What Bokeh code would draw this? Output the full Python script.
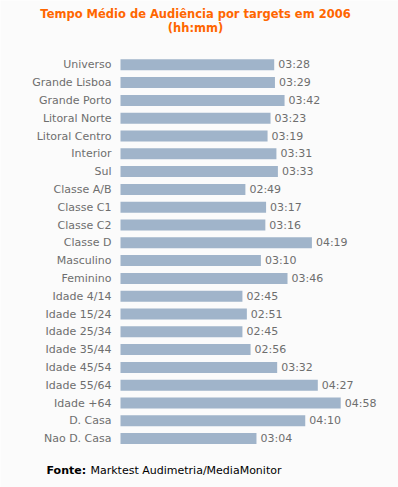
from bokeh.plotting import figure
from bokeh.models import ColumnDataSource, Range1d, Label
from bokeh.core.properties import value
from bokeh.embed import file_html
from bokeh.resources import INLINE

targets = ["Universo", "Grande Lisboa", "Grande Porto", "Litoral Norte", "Litoral Centro",
           "Interior", "Sul", "Classe A/B", "Classe C1", "Classe C2", "Classe D",
           "Masculino", "Feminino", "Idade 4/14", "Idade 15/24", "Idade 25/34",
           "Idade 35/44", "Idade 45/54", "Idade 55/64", "Idade +64", "D. Casa", "Nao D. Casa"]
tempos = ["03:28", "03:29", "03:42", "03:23", "03:19", "03:31", "03:33", "02:49", "03:17",
          "03:16", "04:19", "03:10", "03:46", "02:45", "02:51", "02:45", "02:56", "03:32",
          "04:27", "04:58", "04:10", "03:04"]
minutos = [int(t.split(":")[0]) * 60 + int(t.split(":")[1]) for t in tempos]
titulo = ["Tempo Médio de Audiência por targets em 2006", "(hh:mm)"]
fonte = ("Fonte:", "Marktest Audimetria/MediaMonitor")

FONT = "DejaVu Sans"
GRAY = "#6e6e6e"
BG = "#fbfbfb"
W, H = 398, 487
X0, PXM = 120, 0.739      # page x of zero minutes, pixels per minute
Y0, ROW = 64.3, 17.8      # page y of first row, row pitch

pos = list(range(len(targets)))
src = ColumnDataSource(dict(y=pos, x=minutos, lab=tempos, cat=targets, zero=[0] * len(pos)))

p = figure(width=W, height=H, output_backend="svg", toolbar_location=None,
           x_range=Range1d(-X0 / PXM, (W - X0) / PXM),
           y_range=Range1d((H - Y0) / ROW, -Y0 / ROW),
           min_border=0, min_border_left=0, min_border_right=0,
           min_border_top=0, min_border_bottom=0)
p.background_fill_color = BG
p.border_fill_color = BG
p.outline_line_color = None
p.grid.visible = False
p.axis.visible = False

p.hbar(y="y", right="x", left=0, height=11 / ROW, source=src, color="#a0b4ca", line_color=None)
p.text(x="x", y="y", text="lab", source=src, x_offset=4, text_baseline="middle",
       text_font=value(FONT), text_font_size="11px", text_color=GRAY)
p.text(x="zero", y="y", text="cat", source=src, x_offset=-9, text_align="right",
       text_baseline="middle", text_font=value(FONT), text_font_size="11px", text_color=GRAY)

def px(xp):
    return (xp - X0) / PXM

def py(yp):
    return (yp - Y0) / ROW

for i, t in enumerate(titulo):
    p.add_layout(Label(x=px(195), y=py(13.5 + 14 * i), text=t, text_align="center",
                       text_baseline="middle", text_font=FONT, text_font_size="11.5px",
                       text_font_style="bold", text_color="#ff6600"))
p.add_layout(Label(x=px(46), y=py(470), text=fonte[0], text_align="left", text_baseline="middle",
                   text_font=FONT, text_font_size="11px", text_font_style="bold", text_color="#000000"))
p.add_layout(Label(x=px(90), y=py(470), text=fonte[1], text_align="left", text_baseline="middle",
                   text_font=FONT, text_font_size="11px", text_color="#000000"))

open("out.html", "w").write(file_html(p, INLINE))
